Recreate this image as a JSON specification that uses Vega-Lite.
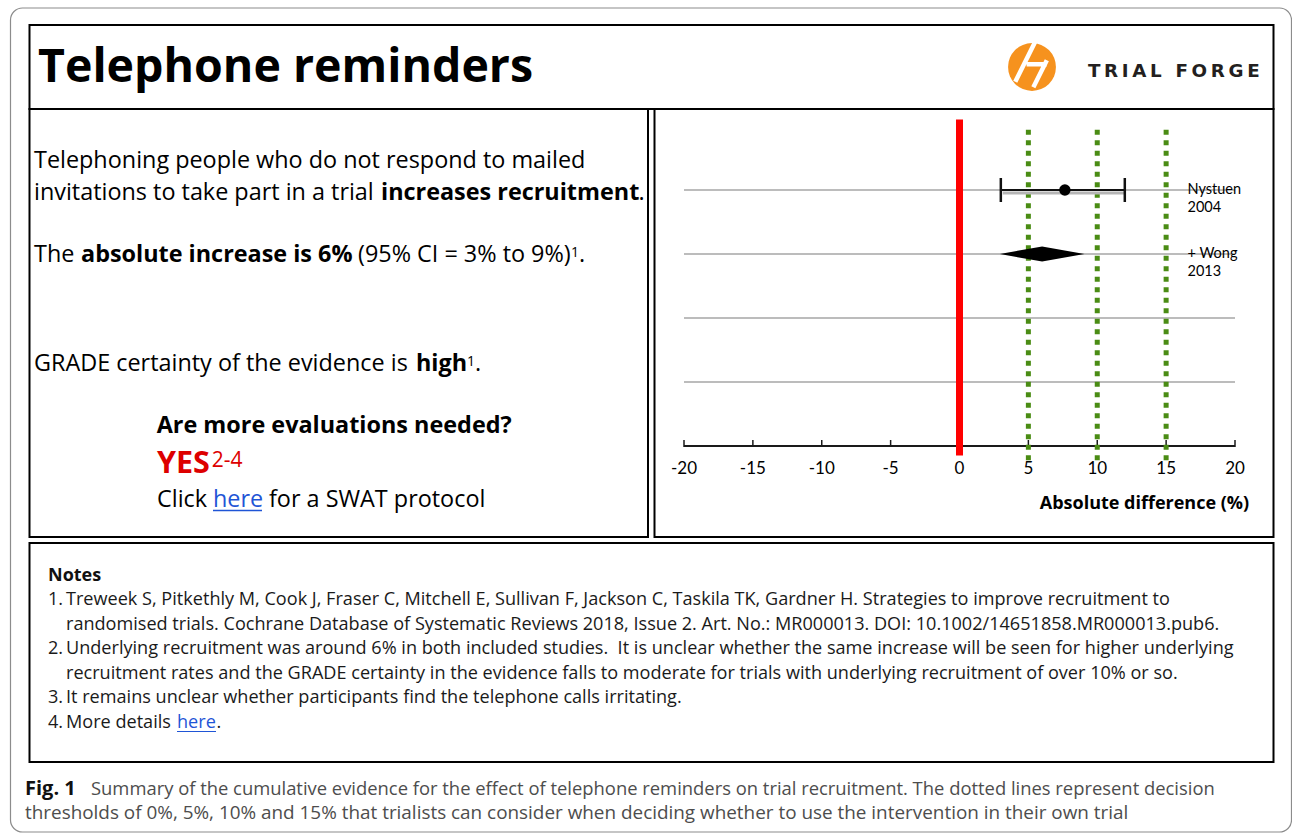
{
"$schema": "https://vega.github.io/schema/vega-lite/v6.json",
"width": 1292, "height": 833,
"autosize": {"type": "none"},
"padding": 0,
"background": "#ffffff",
"config": {"view": {"stroke": null}, "text": {"font": "Open Sans", "fontSize": 23.4, "align": "left", "baseline": "alphabetic", "color": "#000000"}},
"datasets": {
 "forest": [
  {"row": 1, "label": "Nystuen\n2004", "kind": "study", "est": 7.65, "lo": 3, "hi": 12},
  {"row": 2, "label": "+ Wong\n2013", "kind": "pooled", "est": 6, "lo": 3, "hi": 9},
  {"row": 3, "label": "", "kind": "empty"},
  {"row": 4, "label": "", "kind": "empty"}
 ],
 "thresholds": [{"threshold": 5}, {"threshold": 10}, {"threshold": 15}],
 "axis_ticks": [{"value": -20}, {"value": -15}, {"value": -10}, {"value": -5}, {"value": 0}, {"value": 5}, {"value": 10}, {"value": 15}, {"value": 20}]
},
"resolve": {"scale": {"x": "independent", "y": "independent"}},
"layer": [
 {"layer": [
  {"data": {"values": [{"box": "frame"}]}, "mark": {"type": "rect", "fill": null, "stroke": "#8c8c8c", "strokeWidth": 1.2, "cornerRadius": 12}, "encoding": {"x": {"datum": 10.5, "scale": {"domain": [0, 1292], "range": [0, 1292]}, "axis": null}, "x2": {"datum": 1291.5}, "y": {"datum": 8, "scale": {"domain": [0, 833], "range": [0, 833]}, "axis": null}, "y2": {"datum": 832}}},
  {"data": {"values": [{"box": "title"}]}, "mark": {"type": "rect", "fill": null, "stroke": "#000000", "strokeWidth": 2}, "encoding": {"x": {"datum": 29.5, "scale": {"domain": [0, 1292], "range": [0, 1292]}, "axis": null}, "x2": {"datum": 1273.5}, "y": {"datum": 25, "scale": {"domain": [0, 833], "range": [0, 833]}, "axis": null}, "y2": {"datum": 109}}},
  {"data": {"values": [{"box": "summary"}]}, "mark": {"type": "rect", "fill": null, "stroke": "#000000", "strokeWidth": 2}, "encoding": {"x": {"datum": 29.5, "scale": {"domain": [0, 1292], "range": [0, 1292]}, "axis": null}, "x2": {"datum": 648}, "y": {"datum": 109, "scale": {"domain": [0, 833], "range": [0, 833]}, "axis": null}, "y2": {"datum": 537}}},
  {"data": {"values": [{"box": "forest"}]}, "mark": {"type": "rect", "fill": null, "stroke": "#000000", "strokeWidth": 2}, "encoding": {"x": {"datum": 654.5, "scale": {"domain": [0, 1292], "range": [0, 1292]}, "axis": null}, "x2": {"datum": 1273.5}, "y": {"datum": 109, "scale": {"domain": [0, 833], "range": [0, 833]}, "axis": null}, "y2": {"datum": 537}}},
  {"data": {"values": [{"box": "notes"}]}, "mark": {"type": "rect", "fill": null, "stroke": "#000000", "strokeWidth": 2}, "encoding": {"x": {"datum": 29.5, "scale": {"domain": [0, 1292], "range": [0, 1292]}, "axis": null}, "x2": {"datum": 1273.5}, "y": {"datum": 543, "scale": {"domain": [0, 833], "range": [0, 833]}, "axis": null}, "y2": {"datum": 762}}},

  {"data": {"values": [{"t": "Telephone reminders"}]}, "mark": {"type": "text", "fontSize": 46.5, "fontWeight": "bold"}, "encoding": {"x": {"datum": 38, "scale": {"domain": [0, 1292], "range": [0, 1292]}, "axis": null}, "y": {"datum": 82, "scale": {"domain": [0, 833], "range": [0, 833]}, "axis": null}, "text": {"field": "t"}}},
  {"data": {"values": [{"logo": "disc"}]}, "mark": {"type": "point", "shape": "circle", "filled": true, "color": "#f6921e", "size": 2290, "opacity": 1}, "encoding": {"x": {"datum": 1032, "scale": {"domain": [0, 1292], "range": [0, 1292]}, "axis": null}, "y": {"datum": 67, "scale": {"domain": [0, 833], "range": [0, 833]}, "axis": null}}},
  {"data": {"values": [{"logo": "mark"}]}, "mark": {"type": "point", "shape": "M0.15,-1L-0.62,0.55M0.55,-0.25L0.05,0.75M-0.2,-0.1L0.55,-0.1", "filled": false, "color": "#ffffff", "strokeWidth": 4.5, "size": 2916, "opacity": 1}, "encoding": {"x": {"datum": 1032, "scale": {"domain": [0, 1292], "range": [0, 1292]}, "axis": null}, "y": {"datum": 67, "scale": {"domain": [0, 833], "range": [0, 833]}, "axis": null}}},
  {"data": {"values": [{"t": "T\u2009R\u2009I\u2009A\u2009L\u2009 \u2009F\u2009O\u2009R\u2009G\u2009E"}]}, "mark": {"type": "text", "font": "DejaVu Sans", "fontSize": 18.3, "fontWeight": "bold", "color": "#231f20"}, "encoding": {"x": {"datum": 1088, "scale": {"domain": [0, 1292], "range": [0, 1292]}, "axis": null}, "y": {"datum": 76.5, "scale": {"domain": [0, 833], "range": [0, 833]}, "axis": null}, "text": {"field": "t"}}},

  {"data": {"values": [{"t": "Telephoning people who do not respond to mailed"}]}, "mark": {"type": "text"}, "encoding": {"x": {"datum": 34, "scale": {"domain": [0, 1292], "range": [0, 1292]}, "axis": null}, "y": {"datum": 168.3, "scale": {"domain": [0, 833], "range": [0, 833]}, "axis": null}, "text": {"field": "t"}}},
  {"data": {"values": [{"t": "invitations to take part in a trial"}]}, "mark": {"type": "text"}, "encoding": {"x": {"datum": 34, "scale": {"domain": [0, 1292], "range": [0, 1292]}, "axis": null}, "y": {"datum": 200, "scale": {"domain": [0, 833], "range": [0, 833]}, "axis": null}, "text": {"field": "t"}}},
  {"data": {"values": [{"t": "increases recruitment"}]}, "mark": {"type": "text", "fontWeight": "bold"}, "encoding": {"x": {"datum": 381, "scale": {"domain": [0, 1292], "range": [0, 1292]}, "axis": null}, "y": {"datum": 200, "scale": {"domain": [0, 833], "range": [0, 833]}, "axis": null}, "text": {"field": "t"}}},
  {"data": {"values": [{"t": "."}]}, "mark": {"type": "text"}, "encoding": {"x": {"datum": 638.5, "scale": {"domain": [0, 1292], "range": [0, 1292]}, "axis": null}, "y": {"datum": 200, "scale": {"domain": [0, 833], "range": [0, 833]}, "axis": null}, "text": {"field": "t"}}},
  {"data": {"values": [{"t": "The"}]}, "mark": {"type": "text"}, "encoding": {"x": {"datum": 34, "scale": {"domain": [0, 1292], "range": [0, 1292]}, "axis": null}, "y": {"datum": 261.7, "scale": {"domain": [0, 833], "range": [0, 833]}, "axis": null}, "text": {"field": "t"}}},
  {"data": {"values": [{"t": "absolute increase is 6%"}]}, "mark": {"type": "text", "fontWeight": "bold"}, "encoding": {"x": {"datum": 81, "scale": {"domain": [0, 1292], "range": [0, 1292]}, "axis": null}, "y": {"datum": 261.7, "scale": {"domain": [0, 833], "range": [0, 833]}, "axis": null}, "text": {"field": "t"}}},
  {"data": {"values": [{"t": "(95% CI = 3% to 9%)"}]}, "mark": {"type": "text"}, "encoding": {"x": {"datum": 358, "scale": {"domain": [0, 1292], "range": [0, 1292]}, "axis": null}, "y": {"datum": 261.7, "scale": {"domain": [0, 833], "range": [0, 833]}, "axis": null}, "text": {"field": "t"}}},
  {"data": {"values": [{"t": "1"}]}, "mark": {"type": "text", "fontSize": 14}, "encoding": {"x": {"datum": 571, "scale": {"domain": [0, 1292], "range": [0, 1292]}, "axis": null}, "y": {"datum": 257, "scale": {"domain": [0, 833], "range": [0, 833]}, "axis": null}, "text": {"field": "t"}}},
  {"data": {"values": [{"t": "."}]}, "mark": {"type": "text"}, "encoding": {"x": {"datum": 579, "scale": {"domain": [0, 1292], "range": [0, 1292]}, "axis": null}, "y": {"datum": 261.7, "scale": {"domain": [0, 833], "range": [0, 833]}, "axis": null}, "text": {"field": "t"}}},
  {"data": {"values": [{"t": "GRADE certainty of the evidence is"}]}, "mark": {"type": "text"}, "encoding": {"x": {"datum": 34, "scale": {"domain": [0, 1292], "range": [0, 1292]}, "axis": null}, "y": {"datum": 370.7, "scale": {"domain": [0, 833], "range": [0, 833]}, "axis": null}, "text": {"field": "t"}}},
  {"data": {"values": [{"t": "high"}]}, "mark": {"type": "text", "fontWeight": "bold"}, "encoding": {"x": {"datum": 416, "scale": {"domain": [0, 1292], "range": [0, 1292]}, "axis": null}, "y": {"datum": 370.7, "scale": {"domain": [0, 833], "range": [0, 833]}, "axis": null}, "text": {"field": "t"}}},
  {"data": {"values": [{"t": "1"}]}, "mark": {"type": "text", "fontSize": 14}, "encoding": {"x": {"datum": 467, "scale": {"domain": [0, 1292], "range": [0, 1292]}, "axis": null}, "y": {"datum": 366, "scale": {"domain": [0, 833], "range": [0, 833]}, "axis": null}, "text": {"field": "t"}}},
  {"data": {"values": [{"t": "."}]}, "mark": {"type": "text"}, "encoding": {"x": {"datum": 475, "scale": {"domain": [0, 1292], "range": [0, 1292]}, "axis": null}, "y": {"datum": 370.7, "scale": {"domain": [0, 833], "range": [0, 833]}, "axis": null}, "text": {"field": "t"}}},
  {"data": {"values": [{"t": "Are more evaluations needed?"}]}, "mark": {"type": "text", "fontWeight": "bold"}, "encoding": {"x": {"datum": 156.7, "scale": {"domain": [0, 1292], "range": [0, 1292]}, "axis": null}, "y": {"datum": 433.3, "scale": {"domain": [0, 833], "range": [0, 833]}, "axis": null}, "text": {"field": "t"}}},
  {"data": {"values": [{"t": "YES"}]}, "mark": {"type": "text", "fontWeight": "bold", "fontSize": 30.5, "color": "#dd0000"}, "encoding": {"x": {"datum": 157, "scale": {"domain": [0, 1292], "range": [0, 1292]}, "axis": null}, "y": {"datum": 473, "scale": {"domain": [0, 833], "range": [0, 833]}, "axis": null}, "text": {"field": "t"}}},
  {"data": {"values": [{"t": "2-4"}]}, "mark": {"type": "text", "fontSize": 21, "color": "#dd0000"}, "encoding": {"x": {"datum": 211.8, "scale": {"domain": [0, 1292], "range": [0, 1292]}, "axis": null}, "y": {"datum": 466.7, "scale": {"domain": [0, 833], "range": [0, 833]}, "axis": null}, "text": {"field": "t"}}},
  {"data": {"values": [{"t": "Click"}]}, "mark": {"type": "text"}, "encoding": {"x": {"datum": 157, "scale": {"domain": [0, 1292], "range": [0, 1292]}, "axis": null}, "y": {"datum": 507.3, "scale": {"domain": [0, 833], "range": [0, 833]}, "axis": null}, "text": {"field": "t"}}},
  {"data": {"values": [{"t": "here"}]}, "mark": {"type": "text", "color": "#1f55d6"}, "encoding": {"x": {"datum": 213, "scale": {"domain": [0, 1292], "range": [0, 1292]}, "axis": null}, "y": {"datum": 507.3, "scale": {"domain": [0, 833], "range": [0, 833]}, "axis": null}, "text": {"field": "t"}}},
  {"data": {"values": [{"link": "here"}]}, "mark": {"type": "rule", "color": "#1f55d6", "strokeWidth": 1.3}, "encoding": {"x": {"datum": 213, "scale": {"domain": [0, 1292], "range": [0, 1292]}, "axis": null}, "x2": {"datum": 262}, "y": {"datum": 510.5, "scale": {"domain": [0, 833], "range": [0, 833]}, "axis": null}}},
  {"data": {"values": [{"t": "for a SWAT protocol"}]}, "mark": {"type": "text"}, "encoding": {"x": {"datum": 269, "scale": {"domain": [0, 1292], "range": [0, 1292]}, "axis": null}, "y": {"datum": 507.3, "scale": {"domain": [0, 833], "range": [0, 833]}, "axis": null}, "text": {"field": "t"}}},

  {"data": {"values": [{"t": "Notes"}]}, "mark": {"type": "text", "fontSize": 18, "fontWeight": "bold", "color": "#111111"}, "encoding": {"x": {"datum": 48, "scale": {"domain": [0, 1292], "range": [0, 1292]}, "axis": null}, "y": {"datum": 580.5, "scale": {"domain": [0, 833], "range": [0, 833]}, "axis": null}, "text": {"field": "t"}}},
  {"data": {"values": [{"t": "1."}]}, "mark": {"type": "text", "fontSize": 18.1, "color": "#1a1a1a"}, "encoding": {"x": {"datum": 48, "scale": {"domain": [0, 1292], "range": [0, 1292]}, "axis": null}, "y": {"datum": 605, "scale": {"domain": [0, 833], "range": [0, 833]}, "axis": null}, "text": {"field": "t"}}},
  {"data": {"values": [{"t": "2."}]}, "mark": {"type": "text", "fontSize": 18.1, "color": "#1a1a1a"}, "encoding": {"x": {"datum": 48, "scale": {"domain": [0, 1292], "range": [0, 1292]}, "axis": null}, "y": {"datum": 654.2, "scale": {"domain": [0, 833], "range": [0, 833]}, "axis": null}, "text": {"field": "t"}}},
  {"data": {"values": [{"t": ["3.", "4."]}]}, "mark": {"type": "text", "fontSize": 18.1, "lineHeight": 24.6, "color": "#1a1a1a"}, "encoding": {"x": {"datum": 48, "scale": {"domain": [0, 1292], "range": [0, 1292]}, "axis": null}, "y": {"datum": 703.4, "scale": {"domain": [0, 833], "range": [0, 833]}, "axis": null}, "text": {"field": "t"}}},
  {"data": {"values": [{"t": [
    "Treweek S, Pitkethly M, Cook J, Fraser C, Mitchell E, Sullivan F, Jackson C, Taskila TK, Gardner H. Strategies to improve recruitment to",
    "randomised trials. Cochrane Database of Systematic Reviews 2018, Issue 2. Art. No.: MR000013. DOI: 10.1002/14651858.MR000013.pub6.",
    "Underlying recruitment was around 6% in both included studies.\u00a0 It is unclear whether the same increase will be seen for higher underlying",
    "recruitment rates and the GRADE certainty in the evidence falls to moderate for trials with underlying recruitment of over 10% or so.",
    "It remains unclear whether participants find the telephone calls irritating.",
    "More details"]}]}, "mark": {"type": "text", "fontSize": 18.1, "lineHeight": 24.6, "color": "#1a1a1a"}, "encoding": {"x": {"datum": 66, "scale": {"domain": [0, 1292], "range": [0, 1292]}, "axis": null}, "y": {"datum": 605, "scale": {"domain": [0, 833], "range": [0, 833]}, "axis": null}, "text": {"field": "t"}}},
  {"data": {"values": [{"t": "here"}]}, "mark": {"type": "text", "fontSize": 18.1, "color": "#1f55d6"}, "encoding": {"x": {"datum": 177, "scale": {"domain": [0, 1292], "range": [0, 1292]}, "axis": null}, "y": {"datum": 728, "scale": {"domain": [0, 833], "range": [0, 833]}, "axis": null}, "text": {"field": "t"}}},
  {"data": {"values": [{"t": "."}]}, "mark": {"type": "text", "fontSize": 18.1, "color": "#1a1a1a"}, "encoding": {"x": {"datum": 216.5, "scale": {"domain": [0, 1292], "range": [0, 1292]}, "axis": null}, "y": {"datum": 728, "scale": {"domain": [0, 833], "range": [0, 833]}, "axis": null}, "text": {"field": "t"}}},
  {"data": {"values": [{"link": "here"}]}, "mark": {"type": "rule", "color": "#1f55d6", "strokeWidth": 1.1}, "encoding": {"x": {"datum": 177, "scale": {"domain": [0, 1292], "range": [0, 1292]}, "axis": null}, "x2": {"datum": 216}, "y": {"datum": 731.5, "scale": {"domain": [0, 833], "range": [0, 833]}, "axis": null}}},

  {"data": {"values": [{"t": "Fig. 1"}]}, "mark": {"type": "text", "fontSize": 20, "fontWeight": "bold", "color": "#111111"}, "encoding": {"x": {"datum": 25, "scale": {"domain": [0, 1292], "range": [0, 1292]}, "axis": null}, "y": {"datum": 795, "scale": {"domain": [0, 833], "range": [0, 833]}, "axis": null}, "text": {"field": "t"}}},
  {"data": {"values": [{"t": "Summary of the cumulative evidence for the effect of telephone reminders on trial recruitment. The dotted lines represent decision"}]}, "mark": {"type": "text", "fontSize": 18.4, "color": "#4d4d4d"}, "encoding": {"x": {"datum": 91, "scale": {"domain": [0, 1292], "range": [0, 1292]}, "axis": null}, "y": {"datum": 795, "scale": {"domain": [0, 833], "range": [0, 833]}, "axis": null}, "text": {"field": "t"}}},
  {"data": {"values": [{"t": "thresholds of 0%, 5%, 10% and 15% that trialists can consider when deciding whether to use the intervention in their own trial"}]}, "mark": {"type": "text", "fontSize": 18.9, "color": "#4d4d4d"}, "encoding": {"x": {"datum": 25, "scale": {"domain": [0, 1292], "range": [0, 1292]}, "axis": null}, "y": {"datum": 819, "scale": {"domain": [0, 833], "range": [0, 833]}, "axis": null}, "text": {"field": "t"}}}
 ]},

 {"layer": [
  {"data": {"name": "forest"}, "mark": {"type": "rule", "color": "#bcbcbc", "strokeWidth": 2},
   "encoding": {"x": {"datum": -20, "scale": {"domain": [-20, 20], "range": [684, 1235]}, "axis": null}, "x2": {"datum": 20}, "y": {"field": "row", "type": "quantitative", "scale": {"domain": [1, 5], "range": [190, 446]}, "axis": null}}},
  {"data": {"values": [{"axis": "Absolute difference (%)"}]}, "mark": {"type": "rule", "color": "#1a1a1a", "strokeWidth": 2},
   "encoding": {"x": {"datum": -20, "scale": {"domain": [-20, 20], "range": [684, 1235]}, "axis": null}, "x2": {"datum": 20}, "y": {"datum": 5, "scale": {"domain": [1, 5], "range": [190, 446]}, "axis": null}}},
  {"data": {"name": "axis_ticks"}, "mark": {"type": "tick", "orient": "vertical", "size": 7, "thickness": 1.5, "color": "#1a1a1a", "opacity": 1, "yOffset": -2.5},
   "encoding": {"x": {"field": "value", "type": "quantitative", "scale": {"domain": [-20, 20], "range": [684, 1235]}, "axis": null}, "y": {"datum": 5, "scale": {"domain": [1, 5], "range": [190, 446]}, "axis": null}}},
  {"data": {"name": "axis_ticks"}, "mark": {"type": "text", "font": "Lato", "fontSize": 17, "align": "center", "baseline": "middle", "color": "#000000"},
   "encoding": {"x": {"field": "value", "type": "quantitative", "scale": {"domain": [-20, 20], "range": [684, 1235]}, "axis": null}, "y": {"datum": 5.36, "scale": {"domain": [1, 5], "range": [190, 446]}, "axis": null}, "text": {"field": "value", "type": "nominal"}}},
  {"data": {"values": [{"axis": "Absolute difference (%)"}]}, "mark": {"type": "text", "font": "Open Sans", "fontSize": 18, "fontWeight": "bold", "align": "right", "baseline": "middle", "color": "#000000"},
   "encoding": {"x": {"datum": 21.03, "scale": {"domain": [-20, 20], "range": [684, 1235]}, "axis": null}, "y": {"datum": 5.906, "scale": {"domain": [1, 5], "range": [190, 446]}, "axis": null}, "text": {"field": "axis"}}},
  {"data": {"values": [{"no_effect": 0}]}, "mark": {"type": "rule", "color": "#ff0000", "strokeWidth": 7},
   "encoding": {"x": {"field": "no_effect", "type": "quantitative", "scale": {"domain": [-20, 20], "range": [684, 1235]}, "axis": null}, "y": {"datum": -0.1, "scale": {"domain": [1, 5], "range": [190, 446]}, "axis": null}, "y2": {"datum": 5.15}}},
  {"data": {"name": "thresholds"}, "mark": {"type": "rule", "color": "#4a8c14", "strokeWidth": 5, "strokeDash": [5, 5.5]},
   "encoding": {"x": {"field": "threshold", "type": "quantitative", "scale": {"domain": [-20, 20], "range": [684, 1235]}, "axis": null}, "y": {"datum": 0.06, "scale": {"domain": [1, 5], "range": [190, 446]}, "axis": null}, "y2": {"datum": 5.23}}},
  {"data": {"name": "forest"}, "transform": [{"filter": "datum.kind === 'study'"}], "mark": {"type": "rule", "color": "#b5b5b5", "strokeWidth": 3, "yOffset": 3, "xOffset": 2},
   "encoding": {"x": {"field": "lo", "type": "quantitative", "scale": {"domain": [-20, 20], "range": [684, 1235]}, "axis": null}, "x2": {"field": "hi"}, "y": {"field": "row", "type": "quantitative", "scale": {"domain": [1, 5], "range": [190, 446]}, "axis": null}}},
  {"data": {"name": "forest"}, "transform": [{"filter": "datum.kind === 'study'"}], "mark": {"type": "rule", "color": "#111111", "strokeWidth": 2},
   "encoding": {"x": {"field": "lo", "type": "quantitative", "scale": {"domain": [-20, 20], "range": [684, 1235]}, "axis": null}, "x2": {"field": "hi"}, "y": {"field": "row", "type": "quantitative", "scale": {"domain": [1, 5], "range": [190, 446]}, "axis": null}}},
  {"data": {"name": "forest"}, "transform": [{"filter": "datum.kind === 'study'"}], "mark": {"type": "tick", "orient": "vertical", "size": 24, "thickness": 2.5, "color": "#111111", "opacity": 1},
   "encoding": {"x": {"field": "lo", "type": "quantitative", "scale": {"domain": [-20, 20], "range": [684, 1235]}, "axis": null}, "y": {"field": "row", "type": "quantitative", "scale": {"domain": [1, 5], "range": [190, 446]}, "axis": null}}},
  {"data": {"name": "forest"}, "transform": [{"filter": "datum.kind === 'study'"}], "mark": {"type": "tick", "orient": "vertical", "size": 24, "thickness": 2.5, "color": "#111111", "opacity": 1},
   "encoding": {"x": {"field": "hi", "type": "quantitative", "scale": {"domain": [-20, 20], "range": [684, 1235]}, "axis": null}, "y": {"field": "row", "type": "quantitative", "scale": {"domain": [1, 5], "range": [190, 446]}, "axis": null}}},
  {"data": {"name": "forest"}, "transform": [{"filter": "datum.kind === 'study'"}], "mark": {"type": "point", "shape": "circle", "filled": true, "size": 130, "color": "#000000", "opacity": 1},
   "encoding": {"x": {"field": "est", "type": "quantitative", "scale": {"domain": [-20, 20], "range": [684, 1235]}, "axis": null}, "y": {"field": "row", "type": "quantitative", "scale": {"domain": [1, 5], "range": [190, 446]}, "axis": null}}},
  {"data": {"name": "forest"}, "transform": [{"filter": "datum.kind === 'pooled'"}], "mark": {"type": "point", "shape": "M-1,0L0,-0.18L1,0L0,0.18Z", "filled": true, "size": 7157, "color": "#000000", "opacity": 1, "strokeWidth": 0},
   "encoding": {"x": {"field": "est", "type": "quantitative", "scale": {"domain": [-20, 20], "range": [684, 1235]}, "axis": null}, "y": {"field": "row", "type": "quantitative", "scale": {"domain": [1, 5], "range": [190, 446]}, "axis": null}}},
  {"data": {"name": "forest"}, "transform": [{"filter": "datum.label !== ''"}], "mark": {"type": "text", "font": "Lato", "fontSize": 14.5, "lineHeight": 18, "baseline": "middle", "lineBreak": "\n", "color": "#000000"},
   "encoding": {"x": {"datum": 16.55, "scale": {"domain": [-20, 20], "range": [684, 1235]}, "axis": null}, "y": {"field": "row", "type": "quantitative", "scale": {"domain": [1, 5], "range": [190, 446]}, "axis": null}, "text": {"field": "label"}}}
 ]}
]
}
